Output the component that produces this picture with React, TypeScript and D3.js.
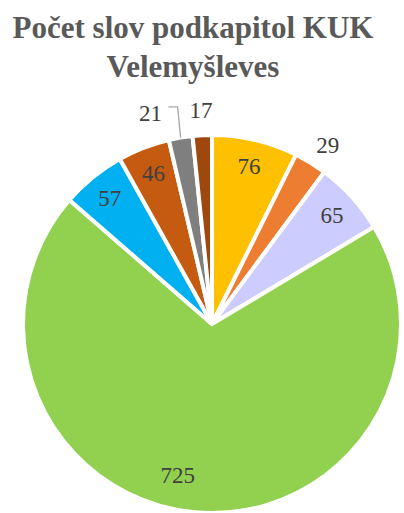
import React from 'react';
import * as d3 from 'd3';

const labels = ['76', '29', '65', '725', '57', '46', '21', '17'];
const values = [76, 29, 65, 725, 57, 46, 21, 17];
const colors = ['#FFC000', '#ED7D31', '#CCCCFF', '#92D050', '#00B0F0', '#C55A11', '#7F7F7F', '#9E480E'];
const outside = [false, true, false, false, false, false, true, true];
const titleLines = ['Počet slov podkapitol KUK', 'Velemyšleves'];

const serif = '"Times New Roman", "Liberation Serif", "DejaVu Serif", serif';

export default function App() {
  const width = 404;
  const height = 513;
  const cx = 212;
  const cy = 324;
  const r = 189;

  const pie = d3.pie<number>().sort(null).startAngle(0).endAngle(2 * Math.PI);
  const arcs = pie(values);
  const arc = d3.arc<d3.PieArcDatum<number>>().innerRadius(0).outerRadius(r);
  const labelArc = d3.arc<d3.PieArcDatum<number>>().innerRadius(162).outerRadius(162);
  const outArc = d3.arc<d3.PieArcDatum<number>>().innerRadius(214).outerRadius(214);
  const edgeArc = d3.arc<d3.PieArcDatum<number>>().innerRadius(r).outerRadius(r);

  // label of the small grey slice is pushed left, with a leader line
  const [gx, gy] = outArc.centroid(arcs[6]);
  const greyLabelX = gx - 26;
  const [ex, ey] = edgeArc.centroid(arcs[6]);

  return (
    <svg width={width} height={height} style={{ position: 'absolute', left: 0, top: 0, fontFamily: serif }}>
      <rect width={width} height={height} fill="#fff" />
      {titleLines.map((t, i) => (
        <text key={t} x={193} y={38 + i * 39} textAnchor="middle" fontWeight="bold" fontSize={31} fill="#595959"
          style={{ fontFamily: serif }}>
          {t}
        </text>
      ))}
      <g transform={`translate(${cx},${cy})`}>
        {arcs.map((a, i) => (
          <path key={i} d={arc(a) || ''} fill={colors[i]} stroke="#fff" strokeWidth={4} strokeLinejoin="miter" />
        ))}
        <polyline points={`${greyLabelX + 18},${gy - 6} ${ex - 3},${gy - 6} ${ex},${ey}`}
          fill="none" stroke="#A6A6A6" strokeWidth={1.3} />
        {arcs.map((a, i) => {
          let [x, y] = outside[i] ? outArc.centroid(a) : labelArc.centroid(a);
          if (i === 3) {
            // Excel put this one left of the slice middle
            x -= 20;
            y -= 10;
          }
          if (i === 1) {
            x += 4;
            y += 4;
          }
          if (i === 6) x = greyLabelX;
          return (
            <text key={'l' + i} x={x} y={y} dy="0.35em" textAnchor="middle" fontSize={23}
              style={{ fontFamily: serif }} fill="#404040">
              {labels[i]}
            </text>
          );
        })}
      </g>
    </svg>
  );
}
